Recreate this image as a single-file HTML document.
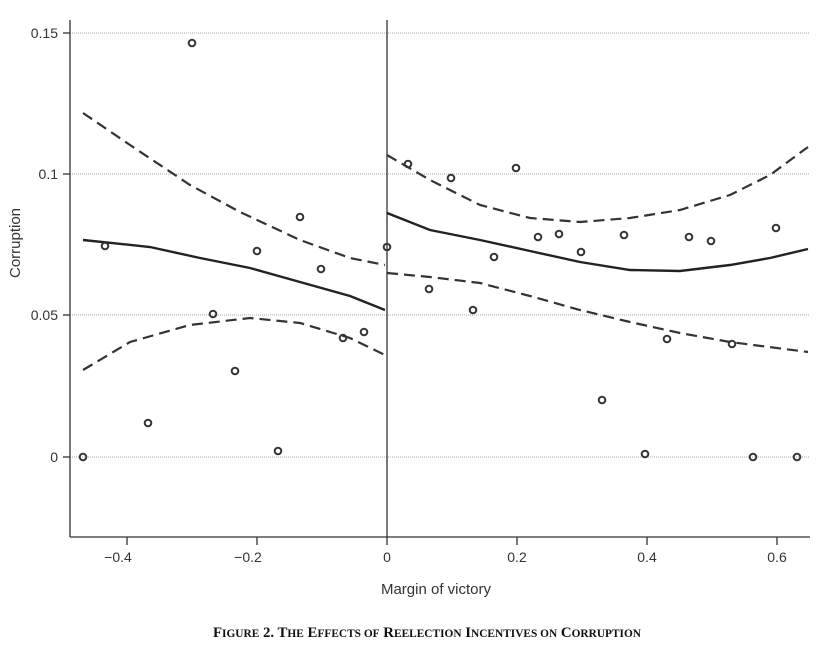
<!DOCTYPE html>
<html><head><meta charset="utf-8"><style>
html,body{margin:0;padding:0;background:#fff;}
svg{display:block;}
</style></head><body>
<svg width="834" height="658" viewBox="0 0 834 658" xmlns="http://www.w3.org/2000/svg" font-family="Liberation Sans, sans-serif">
<rect width="834" height="658" fill="#fff"/>
<g stroke="#aaa" stroke-width="1" stroke-dasharray="1,1">
<line x1="70" y1="33" x2="810" y2="33"/>
<line x1="70" y1="174" x2="810" y2="174"/>
<line x1="70" y1="315" x2="810" y2="315"/>
<line x1="70" y1="457" x2="810" y2="457"/>
</g>
<g stroke="#333" stroke-width="1.3" fill="none">
<line x1="70" y1="20" x2="70" y2="537"/>
<line x1="70" y1="537" x2="810" y2="537"/>
<line x1="387" y1="20" x2="387" y2="537"/>
<line x1="63" y1="33" x2="70" y2="33"/><line x1="63" y1="174" x2="70" y2="174"/>
<line x1="63" y1="315" x2="70" y2="315"/><line x1="63" y1="457" x2="70" y2="457"/>
<line x1="127" y1="537" x2="127" y2="545"/><line x1="257" y1="537" x2="257" y2="545"/>
<line x1="387" y1="537" x2="387" y2="545"/><line x1="517" y1="537" x2="517" y2="545"/>
<line x1="647" y1="537" x2="647" y2="545"/><line x1="777" y1="537" x2="777" y2="545"/>
</g>
<g font-size="14" fill="#333" text-anchor="end">
<text x="58" y="38">0.15</text><text x="58" y="179">0.1</text>
<text x="58" y="320">0.05</text><text x="58" y="462">0</text>
</g>
<g font-size="14" fill="#333" text-anchor="middle">
<text x="118" y="562">−0.4</text><text x="248" y="562">−0.2</text>
<text x="387" y="562">0</text><text x="517" y="562">0.2</text>
<text x="647" y="562">0.4</text><text x="777" y="562">0.6</text>
<text x="436" y="594" font-size="15">Margin of victory</text>
</g>
<text transform="translate(20,243) rotate(-90)" font-size="15" fill="#333" text-anchor="middle">Corruption</text>
<text x="427" y="637" text-anchor="middle" font-family="Liberation Serif, serif" font-size="15" font-weight="bold" fill="#111" textLength="428" lengthAdjust="spacingAndGlyphs">F<tspan font-size="11.5">IGURE</tspan> 2. T<tspan font-size="11.5">HE</tspan> E<tspan font-size="11.5">FFECTS OF</tspan> R<tspan font-size="11.5">EELECTION</tspan> I<tspan font-size="11.5">NCENTIVES ON</tspan> C<tspan font-size="11.5">ORRUPTION</tspan></text>
<g fill="none" stroke="#333" stroke-width="2.2" stroke-dasharray="11,6">
<polyline points="83,113 130,145 190,185 240,212 300,240 350,258 385,265"/>
<polyline points="83,370 130,342 190,325 250,318 300,323 350,338 385,355"/>
<polyline points="387,155 430,180 480,205 530,218 580,222 630,218 680,210 730,195 770,175 808,147"/>
<polyline points="387,273 430,277 480,283 530,296 580,310 630,322 680,333 730,342 808,352"/>
</g>
<g fill="none" stroke="#222" stroke-width="2.4">
<polyline points="83,240 150,247 200,258 250,268 300,282 350,296 385,310"/>
<polyline points="387,213 430,230 480,240 530,251 580,262 630,270 680,271 730,265 770,258 808,249"/>
</g>
<g fill="none" stroke="#333" stroke-width="2">
<circle cx="83" cy="457" r="3.3"/><circle cx="105" cy="246" r="3.3"/><circle cx="148" cy="423" r="3.3"/>
<circle cx="192" cy="43" r="3.3"/><circle cx="213" cy="314" r="3.3"/><circle cx="235" cy="371" r="3.3"/>
<circle cx="257" cy="251" r="3.3"/><circle cx="278" cy="451" r="3.3"/><circle cx="300" cy="217" r="3.3"/>
<circle cx="321" cy="269" r="3.3"/><circle cx="343" cy="338" r="3.3"/><circle cx="364" cy="332" r="3.3"/>
<circle cx="387" cy="247" r="3.3"/><circle cx="408" cy="164" r="3.3"/><circle cx="451" cy="178" r="3.3"/>
<circle cx="429" cy="289" r="3.3"/><circle cx="494" cy="257" r="3.3"/><circle cx="473" cy="310" r="3.3"/>
<circle cx="516" cy="168" r="3.3"/><circle cx="538" cy="237" r="3.3"/><circle cx="559" cy="234" r="3.3"/>
<circle cx="581" cy="252" r="3.3"/><circle cx="602" cy="400" r="3.3"/><circle cx="624" cy="235" r="3.3"/>
<circle cx="645" cy="454" r="3.3"/><circle cx="667" cy="339" r="3.3"/><circle cx="689" cy="237" r="3.3"/>
<circle cx="711" cy="241" r="3.3"/><circle cx="732" cy="344" r="3.3"/><circle cx="753" cy="457" r="3.3"/>
<circle cx="776" cy="228" r="3.3"/><circle cx="797" cy="457" r="3.3"/>
</g>
</svg>
</body></html>
